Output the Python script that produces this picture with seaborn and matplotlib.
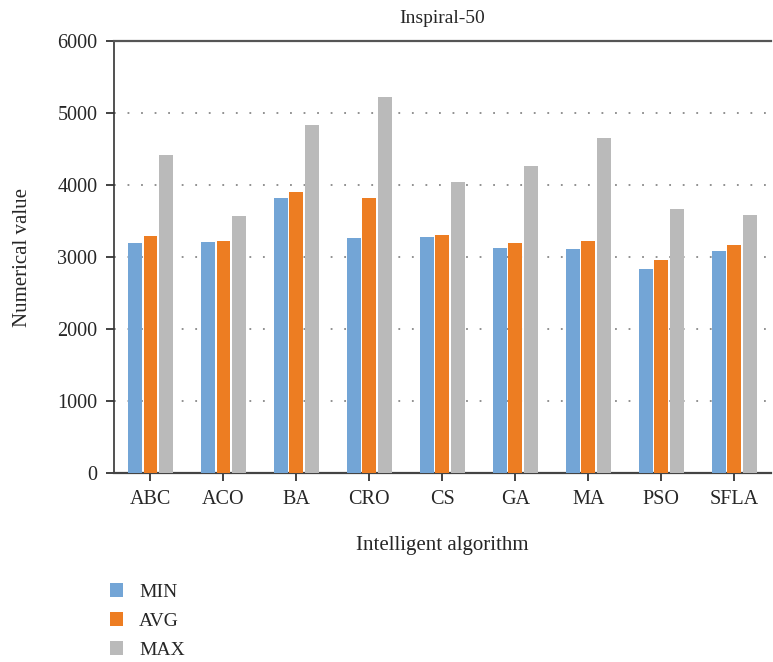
import pandas as pd
import seaborn as sns
import matplotlib.pyplot as plt

# datos
algoritmos = ['ABC', 'ACO', 'BA', 'CRO', 'CS', 'GA', 'MA', 'PSO', 'SFLA']
valores_min = [3195, 3208, 3819, 3264, 3278, 3125, 3111, 2834, 3084]
valores_avg = [3292, 3222, 3902, 3819, 3306, 3195, 3222, 2959, 3167]
valores_max = [4415, 3569, 4831, 5220, 4041, 4263, 4651, 3666, 3583]
series = ['MIN', 'AVG', 'MAX']
colores = ['#73a5d6', '#ed7d22', '#bababa']

df = pd.DataFrame({'alg': algoritmos, 'MIN': valores_min,
                   'AVG': valores_avg, 'MAX': valores_max})
df = df.melt(id_vars='alg', var_name='serie', value_name='valor')

sns.set_style('white')
plt.rcParams['font.family'] = ['Liberation Serif', 'DejaVu Serif']
plt.rcParams['xtick.bottom'] = True
plt.rcParams['ytick.left'] = True
plt.rcParams['xtick.major.size'] = 6
plt.rcParams['ytick.major.size'] = 6

fig = plt.figure(figsize=(7.73, 6.62), dpi=100)
ax = fig.add_axes([0.1475, 0.2855, 0.8495, 0.6525])

sns.barplot(data=df, x='alg', y='valor', hue='serie', hue_order=series,
            palette=colores, width=0.64, gap=0.11, saturation=1,
            linewidth=0, errorbar=None, ax=ax, zorder=3)

ax.set_ylim(0, 6000)
ax.set_xlim(-0.5, 8.5)
ax.set_yticks(range(0, 6001, 1000))
ax.yaxis.grid(True, linestyle=(0, (1, 6.5)), color='#888888', linewidth=1.3)
ax.set_axisbelow(True)

ax.spines['top'].set_color('#555555')
ax.spines['top'].set_linewidth(1.6)
ax.spines['bottom'].set_color('#444444')
ax.spines['bottom'].set_linewidth(1.6)
ax.spines['left'].set_color('#333333')
ax.spines['left'].set_linewidth(1.2)
ax.spines['right'].set_visible(False)
ax.tick_params(axis='both', direction='out', length=6, width=1.2,
               color='#222222', labelsize=14.5, pad=6)

ax.set_title('Inspiral-50', fontsize=14, pad=13)
ax.set_xlabel('Intelligent algorithm', fontsize=15, labelpad=20)
ax.set_ylabel('Numerical value', fontsize=15, labelpad=18)

ax.legend(loc='upper left', bbox_to_anchor=(0.142, 0.119),
          bbox_transform=fig.transFigure, frameon=False, fontsize=14,
          handlelength=0.7, handleheight=0.7, handletextpad=0.8,
          labelspacing=0.58, borderaxespad=0, borderpad=0)

fig.savefig('out.png', dpi=100)
